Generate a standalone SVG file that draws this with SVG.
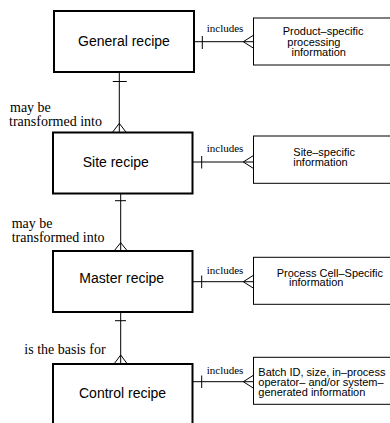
<svg xmlns="http://www.w3.org/2000/svg" width="390" height="423" viewBox="0 0 390 423">
  <style>
    .entity { fill: #fff; stroke: #000; stroke-width: 2; }
    .info { fill: #fff; stroke: #000; stroke-width: 1; }
    .title { font-family: "Liberation Sans", Arial, sans-serif; font-size: 14px; fill: #000; }
    .detail { font-family: "Liberation Sans", Arial, sans-serif; font-size: 11px; fill: #000; }
    .rel { font-family: "Liberation Serif", "Times New Roman", serif; font-size: 14px; fill: #000; }
    .inc { font-family: "Liberation Serif", "Times New Roman", serif; font-size: 11px; fill: #000; }
    .conn { fill: none; stroke: #000; stroke-width: 1; }
  </style>

  <!-- recipe entities -->
  <g id="general-recipe">
    <rect class="entity" x="54" y="11" width="140" height="61"/>
    <text class="title" x="78" y="46">General recipe</text>
  </g>
  <g id="site-recipe">
    <rect class="entity" x="53" y="132.5" width="139.5" height="61"/>
    <text class="title" x="82.7" y="166.5">Site recipe</text>
  </g>
  <g id="master-recipe">
    <rect class="entity" x="53" y="251" width="139.5" height="61"/>
    <text class="title" x="79.3" y="283.3">Master recipe</text>
  </g>
  <g id="control-recipe">
    <rect class="entity" x="53" y="364" width="139.5" height="70"/>
    <text class="title" x="79" y="397.7">Control recipe</text>
  </g>

  <!-- information entities -->
  <g id="product-info">
    <rect class="info" x="253.5" y="18" width="150" height="47"/>
    <text class="detail" x="282.7" y="34.5">Product–specific</text>
    <text class="detail" x="287.3" y="45.5">processing</text>
    <text class="detail" x="291.5" y="55.7">information</text>
  </g>
  <g id="site-info">
    <rect class="info" x="253.5" y="136" width="150" height="47.3"/>
    <text class="detail" x="293.3" y="155.7">Site–specific</text>
    <text class="detail" x="293.3" y="165.7">information</text>
  </g>
  <g id="cell-info">
    <rect class="info" x="253.5" y="257.3" width="150" height="47"/>
    <text class="detail" x="276.7" y="276.7">Process Cell–Specific</text>
    <text class="detail" x="289" y="286">information</text>
  </g>
  <g id="batch-info">
    <rect class="info" x="253.5" y="357.3" width="150" height="47"/>
    <text class="detail" x="258.3" y="375.7">Batch ID, size, in–process</text>
    <text class="detail" x="258.3" y="385.7">operator– and/or system–</text>
    <text class="detail" x="258.3" y="395.7">generated information</text>
  </g>

  <!-- relationships: bar = one, crow's foot = many -->
  <g id="connectors">
    <!-- includes -->
    <g>
      <path class="conn" d="M194 41.7 H253.5 M202.3 36 V49 M253.5 35.2 L243.3 41.7 L253.5 48.2"/>
      <text class="inc" x="206.7" y="31.7">includes</text>
    </g>
    <g>
      <path class="conn" d="M192.5 162 H253.5 M201.7 156 V168.5 M253.5 155.5 L243.3 162 L253.5 168.5"/>
      <text class="inc" x="206.7" y="152.3">includes</text>
    </g>
    <g>
      <path class="conn" d="M192.5 281.7 H253.5 M201.7 275.5 V288 M253.5 275.2 L243.3 281.7 L253.5 288.2"/>
      <text class="inc" x="206.7" y="274">includes</text>
    </g>
    <g>
      <path class="conn" d="M192.5 381.7 H253.5 M201.7 375.5 V388 M253.5 375.2 L243.3 381.7 L253.5 388.2"/>
      <text class="inc" x="206.7" y="374">includes</text>
    </g>

    <!-- transformations down the hierarchy -->
    <g>
      <path class="conn" d="M119.3 72 V132.5 M112.8 81.5 H126.8 M112.3 132.5 L119.3 123.3 L126.3 132.5"/>
      <text class="rel" x="10" y="112">may be</text>
      <text class="rel" x="9" y="125.5">transformed into</text>
    </g>
    <g>
      <path class="conn" d="M120.7 193.5 V251 M115 200.7 H126 M114 251 L120.7 242.7 L127.4 251"/>
      <text class="rel" x="11.7" y="228">may be</text>
      <text class="rel" x="11.7" y="242">transformed into</text>
    </g>
    <g>
      <path class="conn" d="M120.7 312 V364 M115 320.7 H126 M114 364 L120.7 355 L127.4 364"/>
      <text class="rel" x="24.3" y="354">is the basis for</text>
    </g>
  </g>
</svg>
